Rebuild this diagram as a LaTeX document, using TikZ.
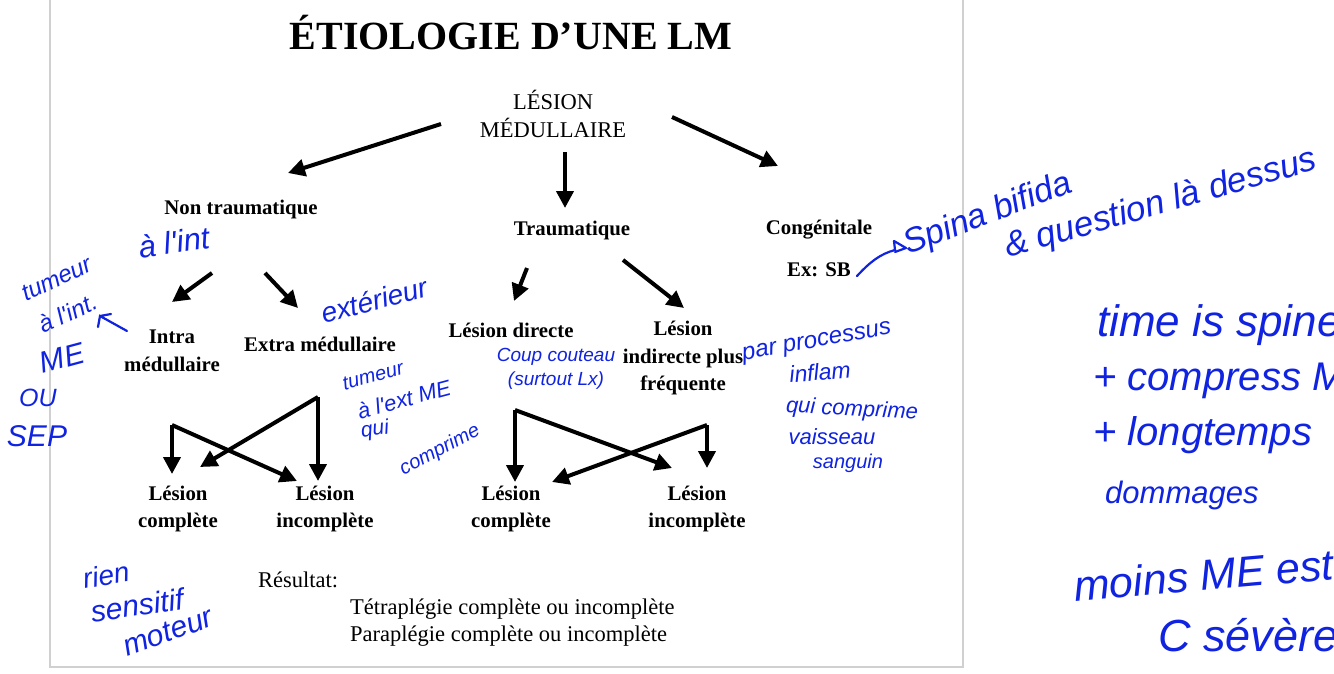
\documentclass[tikz,border=0pt]{standalone}
\usepackage{fontspec}
\setmainfont{Liberation Serif}
\newfontfamily\hand{Liberation Sans}
\usetikzlibrary{arrows.meta}
\definecolor{ink}{RGB}{15,35,225}
\definecolor{slideframe}{RGB}{208,208,208}
\begin{document}
\begin{tikzpicture}[x=1pt,y=-1pt,
  lbl/.style={font=\bfseries\fontsize{20.8}{27.5}\selectfont, align=center, inner sep=0pt},
  reg/.style={font=\fontsize{22.5}{27.5}\selectfont, align=center, inner sep=0pt},
  arr/.style={line width=4pt, -{Triangle[length=17pt,width=17pt]}},
  hw/.style={ink, font=\hand\itshape\fontsize{24}{27}\selectfont, inner sep=0pt, align=left},
  hwarr/.style={ink, line width=2.2pt, line cap=round},
  ]
\useasboundingbox (0,0) rectangle (1334,673);
\fill[white] (0,0) rectangle (1334,673);
\begin{scope}
\clip (0,0) rectangle (1334,673);
\draw[slideframe, line width=1.5pt] (50,-5) -- (50,667) -- (963,667) -- (963,-5);

% ---------- printed diagram ----------
\node[inner sep=0pt, font=\bfseries\fontsize{40}{48}\selectfont] (title) at (511,33) {ÉTIOLOGIE D’UNE LM};
\node[reg] (root) at (553,114) {LÉSION\\MÉDULLAIRE};
\node[lbl] (nontrau) at (241,209) {Non traumatique};
\node[lbl] (trau) at (572,230) {Traumatique};
\node[lbl] (cong) at (819,230) {Congénitale};
\node[lbl] (exsb) at (819,270) {Ex: SB};
\node[lbl] (intra) at (172,351) {Intra\\médullaire};
\node[lbl] (extra) at (320,344) {Extra médullaire};
\node[lbl] (ldir) at (511,330) {Lésion directe};
\node[lbl] (lind) at (683,358) {Lésion\\indirecte plus\\fréquente};
\node[lbl] (lc1) at (178,509) {Lésion\\complète};
\node[lbl] (li1) at (325,509) {Lésion\\incomplète};
\node[lbl] (lc2) at (511,509) {Lésion\\complète};
\node[lbl] (li2) at (697,509) {Lésion\\incomplète};
\node[reg, anchor=west] (res) at (258,580) {Résultat:};
\node[reg, anchor=west] (tetra) at (350,609) {Tétraplégie complète ou incomplète};
\node[reg, anchor=west] (para) at (350,636) {Paraplégie complète ou incomplète};

% arrow end points
\coordinate (r1) at (441,124); \coordinate (n1) at (288,173);
\coordinate (r2) at (565,152); \coordinate (t1) at (565,208);
\coordinate (r3) at (672,117); \coordinate (c1) at (778,166);
\coordinate (n2) at (212,273); \coordinate (i1) at (172,302);
\coordinate (n3) at (265,273); \coordinate (e1) at (298,308);
\coordinate (t2) at (527,268); \coordinate (d1) at (514,301);
\coordinate (t3) at (623,260); \coordinate (d2) at (684,308);
\coordinate (kA) at (172,425); \coordinate (kB) at (318,397);
\coordinate (kC) at (515,410); \coordinate (kD) at (707,425);
\coordinate (lc1t) at (172,474); \coordinate (lc1d) at (200,467);
\coordinate (li1t) at (318,481); \coordinate (li1d) at (297,481);
\coordinate (lc2t) at (515,482); \coordinate (lc2d) at (552,482);
\coordinate (li2t) at (707,468); \coordinate (li2d) at (672,468);

\draw[arr] (r1) -- (n1);
\draw[arr] (r2) -- (t1);
\draw[arr] (r3) -- (c1);
\draw[arr] (n2) -- (i1);
\draw[arr] (n3) -- (e1);
\draw[arr] (t2) -- (d1);
\draw[arr] (t3) -- (d2);
\draw[arr] (kA) -- (lc1t);
\draw[arr] (kA) -- (li1d);
\draw[arr] (kB) -- (li1t);
\draw[arr] (kB) -- (lc1d);
\draw[arr] (kC) -- (lc2t);
\draw[arr] (kC) -- (li2d);
\draw[arr] (kD) -- (li2t);
\draw[arr] (kD) -- (lc2d);

% ---------- handwritten annotations ----------
\node[hw, rotate=8, font=\hand\itshape\fontsize{31}{32}\selectfont] (h1) at (174,242) {à l'int};
\node[hw, rotate=25] (h2) at (57,279) {tumeur};
\node[hw, rotate=25] (h3) at (68,313) {à l'int.};
\node[hw, rotate=15, font=\hand\itshape\fontsize{30}{30}\selectfont] (h4) at (62,358) {ME};
\node[hw, font=\hand\itshape\fontsize{25}{30}\selectfont] (h5) at (38,398) {OU};
\node[hw, font=\hand\itshape\fontsize{30}{30}\selectfont] (h6) at (37,436) {SEP};
\coordinate (ha1) at (127,331); \coordinate (ha2) at (100,316);
\draw[hwarr] (ha1) -- (ha2) -- ++(-2,11) (ha2) -- ++(11,-2);

\node[hw, rotate=15, font=\hand\itshape\fontsize{28}{30}\selectfont] (h7) at (374,300) {extérieur};
\node[hw, rotate=15, font=\hand\itshape\fontsize{20}{24}\selectfont] (h8) at (373,376) {tumeur};
\node[hw, rotate=15, font=\hand\itshape\fontsize{22}{24}\selectfont] (h9) at (404,399) {à l'ext ME};
\node[hw, rotate=8, font=\hand\itshape\fontsize{21}{24}\selectfont] (h10) at (375,430) {qui};
\node[hw, rotate=28, font=\hand\itshape\fontsize{20}{24}\selectfont] (h11) at (440,450) {comprime};

\node[hw, font=\hand\itshape\fontsize{19}{23}\selectfont] (h12) at (556,357) {Coup couteau};
\node[hw, font=\hand\itshape\fontsize{19}{23}\selectfont] (h13) at (556,381) {(surtout Lx)};

\node[hw, rotate=10, font=\hand\itshape\fontsize{24}{26}\selectfont] (h14) at (817,343) {par processus};
\node[hw, rotate=5, font=\hand\itshape\fontsize{23}{26}\selectfont] (h15) at (820,372) {inflam};
\node[hw, rotate=-3, font=\hand\itshape\fontsize{22}{26}\selectfont] (h16) at (852,410) {qui comprime};
\node[hw, font=\hand\itshape\fontsize{22}{26}\selectfont] (h17) at (832,437) {vaisseau};
\node[hw, font=\hand\itshape\fontsize{20}{26}\selectfont] (h18) at (848,463) {sanguin};

\coordinate (sb1) at (857,276); \coordinate (sb2) at (895,250);
\draw[hwarr] (sb1) .. controls (870,262) and (880,254) .. (sb2);
\draw[hwarr, line join=round] (sb2) -- ++(-1,-9) -- ++(12,7) -- ++(-11,4);
\node[hw, rotate=21, font=\hand\itshape\fontsize{34}{34}\selectfont, anchor=base west] (h19) at (908,255) {Spina bifida};
\node[hw, rotate=16, font=\hand\itshape\fontsize{35}{35}\selectfont, anchor=base west] (h20) at (1008,258) {\& question là dessus};

\node[hw, anchor=base west, font=\hand\itshape\fontsize{44}{44}\selectfont] (h21) at (1097,336) {time is spine};
\node[hw, anchor=base west, font=\hand\itshape\fontsize{40}{44}\selectfont] (h22) at (1093,390) {+ compress ME};
\node[hw, anchor=base west, font=\hand\itshape\fontsize{40}{44}\selectfont] (h23) at (1093,445) {+ longtemps};
\node[hw, anchor=base west, font=\hand\itshape\fontsize{31}{44}\selectfont] (h24) at (1105,503) {dommages};
\node[hw, rotate=5, anchor=base west, font=\hand\itshape\fontsize{43}{44}\selectfont] (h25) at (1075,602) {moins ME est};
\node[hw, anchor=base west, font=\hand\itshape\fontsize{45}{45}\selectfont] (h26) at (1158,651) {C sévère};

\node[hw, rotate=10, font=\hand\itshape\fontsize{28}{28}\selectfont] (h27) at (106,575) {rien};
\node[hw, rotate=8, font=\hand\itshape\fontsize{30}{30}\selectfont] (h28) at (137,605) {sensitif};
\node[hw, rotate=20, font=\hand\itshape\fontsize{30}{30}\selectfont] (h29) at (168,632) {moteur};
\end{scope}
\end{tikzpicture}
\end{document}
